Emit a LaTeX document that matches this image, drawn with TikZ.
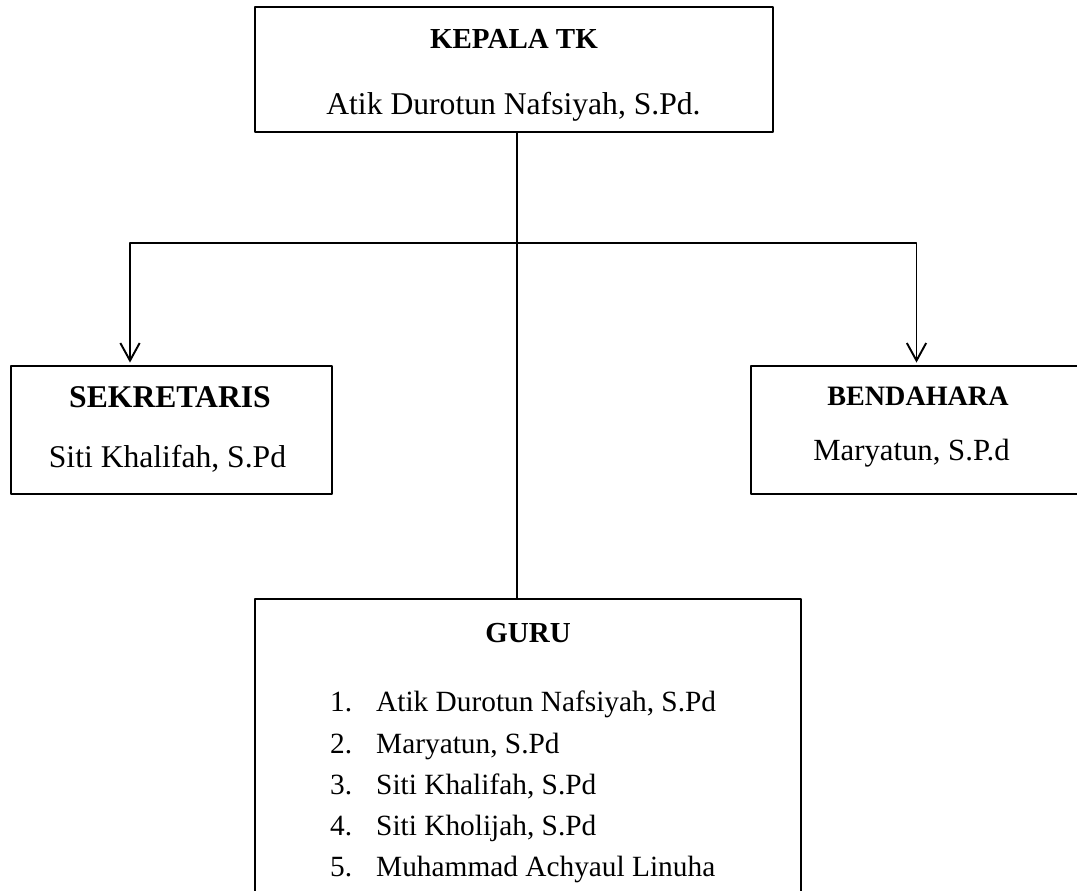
\documentclass[tikz,border=0pt]{standalone}
\usepackage{fontspec}
\setmainfont{Liberation Serif}
\usetikzlibrary{arrows.meta}

\tikzset{
  orgbox/.style={draw, line width=0.9pt, inner sep=0pt},
  link/.style={line width=1.1pt},
  titletext/.style={anchor=base, font=\fontsize{16.5}{20}\selectfont\bfseries},
  nametext/.style={anchor=base, font=\fontsize{18}{22}\selectfont},
  listtext/.style={anchor=base west, font=\fontsize{16.7}{20}\selectfont}
}

\begin{document}
\begin{tikzpicture}[line cap=round, line join=round]
  \useasboundingbox (0, 0) rectangle (21.54, -17.8);

  % Boxes
  \node[orgbox, minimum width=10.36cm, minimum height=2.5cm] (kepala) at (10.28, -1.39) {};
  \node[orgbox, minimum width=6.42cm, minimum height=2.56cm] (sekretaris) at (3.43, -8.6) {};
  \node[orgbox, minimum width=6.56cm, minimum height=2.56cm] (bendahara) at (18.3, -8.6) {};
  \node[orgbox, minimum width=10.92cm, minimum height=5.92cm] (guru) at (10.56, -14.94) {};

  % Branch points
  \coordinate (split) at (10.34, -4.86);
  \coordinate (leftend) at (2.6, -4.86);
  \coordinate (rightend) at (18.33, -4.86);

  % Connectors
  \draw[link] (kepala.south -| split) -- (guru.north -| split);
  \draw[link, -{Straight Barb[length=10pt, width=11pt]}, shorten >=1.5pt]
    (split) -- (leftend) -- (leftend |- sekretaris.north);
  \draw[link, -{Straight Barb[length=10pt, width=11pt]}, shorten >=1.5pt]
    (split) -- (rightend) -- (rightend |- bendahara.north);

  % Kepala TK
  \node[titletext] (kepalatitle) at (10.28, -0.96) {KEPALA TK};
  \node[nametext] (kepalaname) at (10.27, -2.28) {Atik Durotun Nafsiyah, S.Pd.};

  % Sekretaris
  \node[titletext, font=\fontsize{18}{22}\selectfont\bfseries] (sekretaristitle) at (3.4, -8.14) {SEKRETARIS};
  \node[nametext] (sekretarisname) at (3.35, -9.34) {Siti Khalifah, S.Pd};

  % Bendahara
  \node[titletext, font=\fontsize{16}{20}\selectfont\bfseries] (bendaharatitle) at (18.36, -8.1) {BENDAHARA};
  \node[nametext, font=\fontsize{17.5}{21}\selectfont] (bendaharaname) at (18.23, -9.2) {Maryatun, S.P.d};

  % Guru
  \node[titletext] (gurutitle) at (10.56, -12.85) {GURU};
  \node[listtext] (num1) at (6.48, -14.22) {1.};
  \node[listtext] (guru1) at (7.4, -14.22) {Atik Durotun Nafsiyah, S.Pd};
  \node[listtext] (num2) at (6.48, -15.06) {2.};
  \node[listtext] (guru2) at (7.4, -15.06) {Maryatun, S.Pd};
  \node[listtext] (num3) at (6.48, -15.88) {3.};
  \node[listtext] (guru3) at (7.4, -15.88) {Siti Khalifah, S.Pd};
  \node[listtext] (num4) at (6.48, -16.7) {4.};
  \node[listtext] (guru4) at (7.4, -16.7) {Siti Kholijah, S.Pd};
  \node[listtext] (num5) at (6.48, -17.52) {5.};
  \node[listtext] (guru5) at (7.4, -17.52) {Muhammad Achyaul Linuha};
\end{tikzpicture}
\end{document}
